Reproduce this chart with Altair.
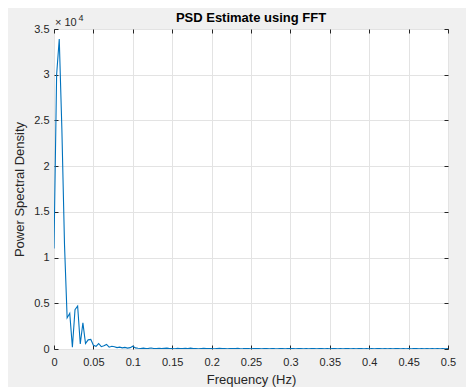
import altair as alt
import pandas as pd

# Frequency grid spacing (Hz) and PSD values
step = 1 / 300
psd = [
    11000, 30000, 33900, 24000, 11400, 3400, 3900, 200, 4300, 4700,
    550, 2850, 600, 1000, 1050, 400, 300, 600, 250, 350,
    500, 200, 300, 250, 150, 200, 120, 180, 100, 150,
    300, 120, 80, 60, 90, 40, 70, 110, 50, 60,
    80, 40, 70, 90, 50, 60, 30, 80, 60, 40,
    70, 50, 90, 40, 60, 30, 50, 70, 40, 60,
    50, 30, 60, 80, 40, 50, 30, 60, 40, 50,
    70, 30, 40, 60, 50, 30, 40, 50, 60, 30,
    40, 50, 30, 60, 40, 30, 50, 40, 30, 50,
    40, 60, 30, 40, 50, 30, 40, 30, 50, 40,
    30, 40, 50, 30, 40, 30, 50, 40, 30, 40,
    30, 50, 40, 30, 40, 30, 40, 50, 30, 40,
    30, 40, 30, 50, 40, 30, 40, 30, 40, 30,
    50, 40, 30, 40, 30, 40, 30, 40, 50, 30,
    40, 30, 40, 30, 40, 30, 40, 30, 40, 30,
    40,
]
freq = [round(i * step, 6) for i in range(len(psd))]
x_ticks = [0, 0.05, 0.1, 0.15, 0.2, 0.25, 0.3, 0.35, 0.4, 0.45, 0.5]
y_ticks = [0, 5000, 10000, 15000, 20000, 25000, 30000, 35000]
title_text = "PSD Estimate using FFT"

df = pd.DataFrame({"f": freq, "p": psd})
one = pd.DataFrame({"a": [0]})

W, H = 394, 320
FONT = "Liberation Sans"
TXT = "#262626"

xs = alt.Scale(domain=[0, 0.5], nice=False, zero=False)
ys = alt.Scale(domain=[0, 35000], nice=False)

line = alt.Chart(df).mark_line(color="#0072BD", strokeWidth=1.1, clip=True).encode(
    x=alt.X("f:Q", scale=xs, title="Frequency (Hz)",
            axis=alt.Axis(values=x_ticks, labelExpr="'' + datum.value", grid=True,
                          gridColor="#e3e3e3", ticks=False, domain=False,
                          labelFont=FONT, labelFontSize=11, labelColor=TXT,
                          labelPadding=7, titleFont=FONT, titleFontSize=13,
                          titleFontWeight="normal", titleColor=TXT, titlePadding=6,
                          labelFlush=False)),
    y=alt.Y("p:Q", scale=ys, title="Power Spectral Density",
            axis=alt.Axis(values=y_ticks, labelExpr="'' + datum.value / 10000", grid=True,
                          gridColor="#e3e3e3", ticks=False, domain=False,
                          labelFont=FONT, labelFontSize=11, labelColor=TXT,
                          labelPadding=5, titleFont=FONT, titleFontSize=13,
                          titleFontWeight="normal", titleColor=TXT, titlePadding=7,
                          labelFlush=False)),
)

inner_bl = alt.Chart(df).mark_line(opacity=0).encode(
    x=alt.X("f:Q", scale=xs, title=None,
            axis=alt.Axis(orient="top", offset=-H, values=x_ticks, labels=False, grid=False,
                          domain=False, ticks=True, tickSize=4, tickColor=TXT)),
    y=alt.Y("p:Q", scale=ys, title=None,
            axis=alt.Axis(orient="right", offset=-W, values=y_ticks, labels=False, grid=False,
                          domain=False, ticks=True, tickSize=4, tickColor=TXT)),
)

inner_tr = alt.Chart(df).mark_line(opacity=0).encode(
    x=alt.X("f:Q", scale=xs, title=None,
            axis=alt.Axis(orient="bottom", offset=-H, values=x_ticks, labels=False, grid=False,
                          domain=False, ticks=True, tickSize=4, tickColor=TXT)),
    y=alt.Y("p:Q", scale=ys, title=None,
            axis=alt.Axis(orient="left", offset=-W, values=y_ticks, labels=False, grid=False,
                          domain=False, ticks=True, tickSize=4, tickColor=TXT)),
)

exp_base = alt.Chart(one).mark_text(text="\u00d7 10", font=FONT, fontSize=11, color=TXT,
                                     align="left", baseline="middle").encode(
    x=alt.value(1), y=alt.value(-6))
exp_sup = alt.Chart(one).mark_text(text="4", font=FONT, fontSize=9, color=TXT,
                                    align="left", baseline="middle").encode(
    x=alt.value(24.5), y=alt.value(-11.5))
title_mark = alt.Chart(one).mark_text(text=title_text, font=FONT, fontSize=13,
                                       fontWeight="bold", color="#000000",
                                       align="center", baseline="middle").encode(
    x=alt.value(W / 2), y=alt.value(-11))

chart = alt.layer(line, inner_bl, inner_tr, exp_base, exp_sup, title_mark).resolve_axis(
    x="independent", y="independent"
).properties(
    width=W, height=H,
    autosize=alt.AutoSizeParams(type="none"),
    padding={"left": 46, "top": 21, "right": 18, "bottom": 38},
    background="#f0f0f0",
).configure_view(fill="white", stroke=TXT, strokeWidth=1)

chart.save("out.html", embed_options={"renderer": "svg", "actions": False})
